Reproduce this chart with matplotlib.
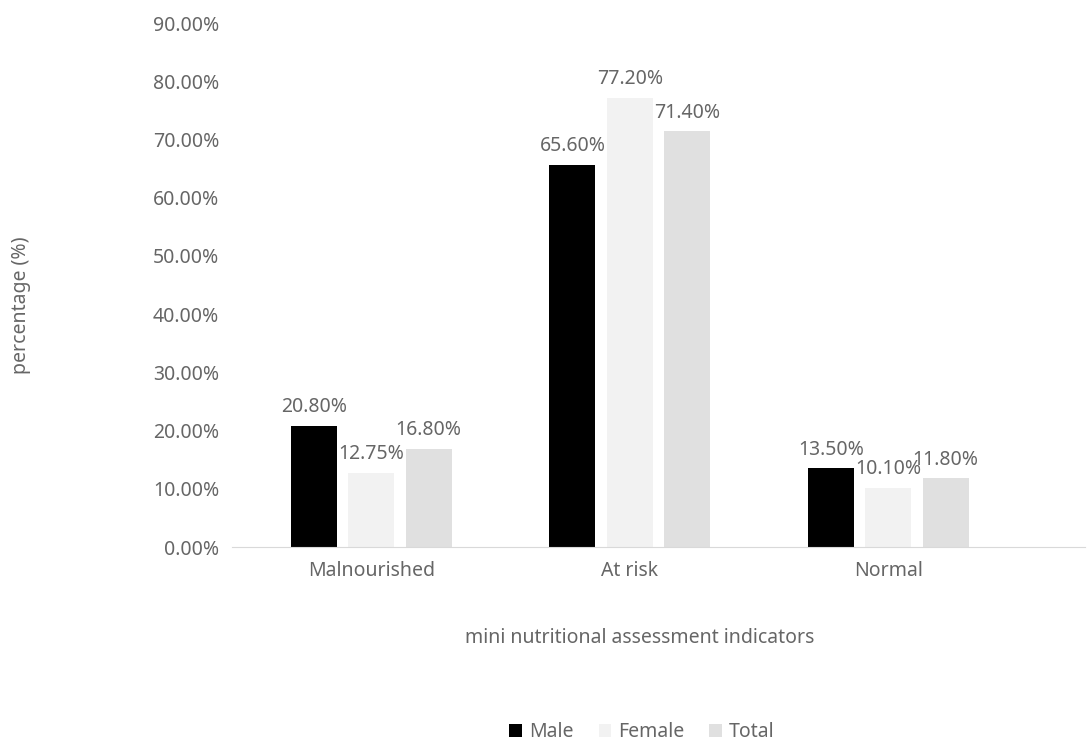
import matplotlib.pyplot as plt
import numpy as np
from matplotlib.ticker import FuncFormatter

categories = ["Malnourished", "At risk", "Normal"]
series = ["Male", "Female", "Total"]
male = [20.80, 65.60, 13.50]
female = [12.75, 77.20, 10.10]
total = [16.80, 71.40, 11.80]

colors = ["#000000", "#f2f2f2", "#e0e0e0"]
txt = "#666666"
fs = 14
plt.rcParams["font.family"] = ["Noto Sans", "DejaVu Sans"]

fig = plt.figure(figsize=(10.88, 7.4), dpi=100)
ax = fig.add_axes([0.213, 0.2608, 0.784, 0.7081])

x = np.arange(len(categories))
w = 0.178
offsets = [-0.222, 0.0, 0.222]
for vals, off, c, name in zip([male, female, total], offsets, colors, series):
    bars = ax.bar(x + off, vals, width=w, color=c, label=name)
    for b, v in zip(bars, vals):
        ax.text(b.get_x() + b.get_width() / 2, v + 1.5, f"{v:.2f}%",
                ha="center", va="bottom", fontsize=fs, color=txt)

ax.set_xlim(-0.54, 2.76)
ax.set_ylim(0, 90)
ax.set_yticks(np.arange(0, 91, 10))
ax.yaxis.set_major_formatter(FuncFormatter(lambda v, p: f"{v:.2f}%"))
ax.set_xticks(x)
ax.set_xticklabels(categories)
ax.tick_params(axis="both", length=0, labelsize=fs, labelcolor=txt)
ax.tick_params(axis="y", pad=9)
ax.tick_params(axis="x", pad=10)
for s in ["top", "right", "left"]:
    ax.spines[s].set_visible(False)
ax.spines["bottom"].set_color("#d9d9d9")

fig.text(0.019, 0.588, "percentage (%)", rotation=90, ha="center", va="center",
         fontsize=fs, color=txt)
fig.text(0.588, 0.138, "mini nutritional assessment indicators", ha="center",
         va="center", fontsize=fs, color=txt)

leg = fig.legend(loc="center", bbox_to_anchor=(0.59, 0.011), ncol=3, frameon=False,
                 fontsize=fs, handlelength=0.65, handleheight=0.65,
                 handletextpad=0.35, columnspacing=1.3)
for t in leg.get_texts():
    t.set_color(txt)

fig.savefig("out.png", dpi=100)
